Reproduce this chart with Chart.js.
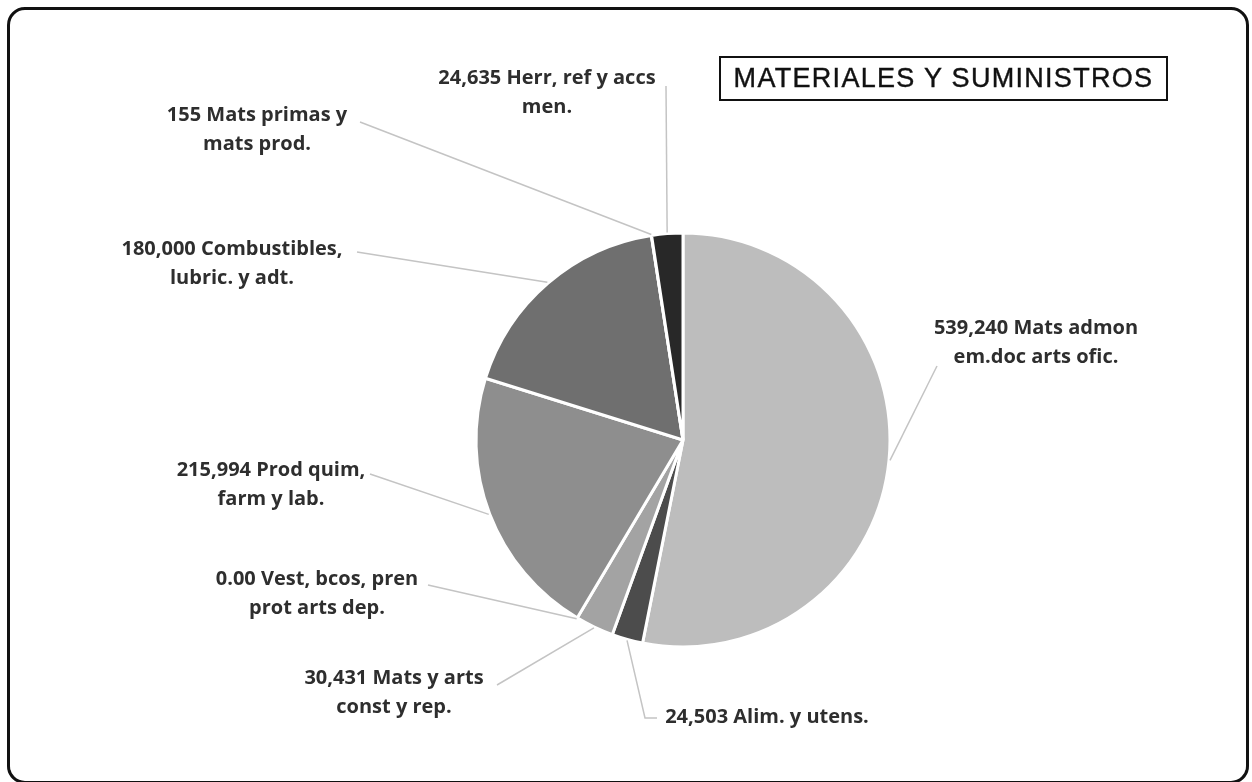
<!DOCTYPE html>
<html>
<head>
<meta charset="utf-8">
<title>Materiales y suministros</title>
<script src="https://cdn.jsdelivr.net/npm/chart.js@4/dist/chart.umd.min.js"></script>
<style>
    html, body { margin: 0; padding: 0; background: #fff; }
    #wrap { position: relative; width: 1252px; height: 782px; overflow: hidden; }
    #pieChart { position: absolute; left: 0; top: 0; }
    .frame {
        position: absolute; left: 7px; top: 7px; width: 1242px; height: 777px;
        box-sizing: border-box; border: 3px solid #111; border-radius: 18px;
        pointer-events: none;
    }
    .title {
        position: absolute; left: 719px; top: 56px; width: 449px; height: 45px;
        box-sizing: border-box; border: 2px solid #111;
        font-family: "Liberation Sans", Arial, sans-serif; font-size: 27px;
        letter-spacing: 1.3px; color: #111; text-align: center; line-height: 41px;
        -webkit-text-stroke: 0.4px #111;
    }
</style>
</head>
<body>
<div id="wrap">
    <canvas id="pieChart" width="1252" height="782"></canvas>
    <div class="frame"></div>
    <div class="title">MATERIALES Y SUMINISTROS</div>
</div>
<script>
// Slices, clockwise from 12 o'clock
const categories = [
    ["Mats admon", "em.doc arts ofic."],
    ["Alim. y utens."],
    ["Mats y arts", "const y rep."],
    ["Vest, bcos, pren", "prot arts dep."],
    ["Prod quim,", "farm y lab."],
    ["Combustibles,", "lubric. y adt."],
    ["Mats primas y", "mats prod."],
    ["Herr, ref y accs", "men."]
];
const amounts = [539240, 24503, 30431, 0, 215994, 180000, 155, 24635];
const sliceColors = ['#bdbdbd', '#4c4c4c', '#a3a3a3', '#9a9a9a', '#8e8e8e', '#6f6f6f', '#888888', '#282828'];

// Label placement: text centre x, first line y, leader start, optional elbow
const labelX = [1036, 767, 394, 317, 271, 232, 257, 547];
const labelY = [328, 717, 678, 579, 470, 249, 115, 78];
const leaderFrom = [[937, 366], [657, 718], [497, 685], [428, 585], [370, 474], [357, 252], [360, 122], [666, 86]];
const leaderElbow = [null, [645, 718], null, null, null, null, null, null];

function formatAmount(v) {
    return v === 0 ? "0.00" : v.toLocaleString("en-US");
}

const labelPlugin = {
    id: 'sliceLabels',
    afterDraw(chart) {
        const ctx = chart.ctx;
        const arcs = chart.getDatasetMeta(0).data;
        ctx.save();

        // leader lines
        ctx.strokeStyle = '#c4c4c4';
        ctx.lineWidth = 1.5;
        arcs.forEach((arc, i) => {
            const mid = (arc.startAngle + arc.endAngle) / 2;
            const r = arc.outerRadius + 1;
            ctx.beginPath();
            ctx.moveTo(leaderFrom[i][0], leaderFrom[i][1]);
            if (leaderElbow[i]) ctx.lineTo(leaderElbow[i][0], leaderElbow[i][1]);
            ctx.lineTo(arc.x + Math.cos(mid) * r, arc.y + Math.sin(mid) * r);
            ctx.stroke();
        });

        // label text
        ctx.fillStyle = '#2e2e2e';
        ctx.font = '700 20px "Open Sans", sans-serif';
        ctx.textAlign = 'center';
        ctx.textBaseline = 'middle';
        categories.forEach((lines, i) => {
            const text = [formatAmount(amounts[i]) + " " + lines[0]].concat(lines.slice(1));
            text.forEach((t, j) => ctx.fillText(t, labelX[i], labelY[i] + j * 29));
        });
        ctx.restore();
    }
};

const ctx = document.getElementById("pieChart").getContext("2d");
new Chart(ctx, {
    type: 'pie',
    data: {
        labels: categories.map(c => c.join(" ")),
        datasets: [{
            data: amounts,
            backgroundColor: sliceColors,
            borderColor: '#ffffff',
            borderWidth: 3,
            radius: 207
        }]
    },
    options: {
        responsive: false,
        animation: false,
        layout: { padding: { left: 200, right: 86, top: 130, bottom: 32 } },
        plugins: {
            legend: { display: false },
            tooltip: { enabled: false }
        }
    },
    plugins: [labelPlugin]
});
</script>
</body>
</html>
